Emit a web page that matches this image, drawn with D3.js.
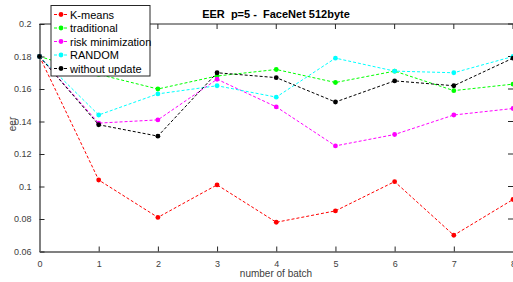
<!DOCTYPE html>
<html>
<head>
<meta charset="utf-8">
<script src="https://cdn.jsdelivr.net/npm/d3@7"></script>
<style>
  body { margin: 0; background: #fff; }
  svg { display: block; font-family: "Liberation Sans", Arial, sans-serif; }
  .title { white-space: pre; }
</style>
</head>
<body>
<svg id="chart" width="513" height="282"></svg>
<script>
// batches on the x axis
const batches = [0, 1, 2, 3, 4, 5, 6, 7, 8]

// EER per method
const kmeans      = [0.180, 0.104, 0.081, 0.101, 0.078, 0.085, 0.103, 0.070, 0.092]
const traditional = [0.180, 0.169, 0.160, 0.168, 0.172, 0.164, 0.171, 0.159, 0.163]
const riskMin     = [0.180, 0.139, 0.141, 0.166, 0.149, 0.125, 0.132, 0.144, 0.148]
const random      = [0.180, 0.144, 0.157, 0.162, 0.155, 0.179, 0.171, 0.170, 0.180]
const noUpdate    = [0.180, 0.138, 0.131, 0.170, 0.167, 0.152, 0.165, 0.162, 0.179]

const seriesNames = ['K-means', 'traditional', 'risk minimization', 'RANDOM', 'without update']
const seriesColors = ['#ff0000', '#00ff00', '#ff00ff', '#00ffff', '#000000']
const yTicks = [0.06, 0.08, 0.1, 0.12, 0.14, 0.16, 0.18, 0.2]

const series = [kmeans, traditional, riskMin, random, noUpdate].map((vals, i) => ({
  name: seriesNames[i],
  color: seriesColors[i],
  values: vals.map((v, j) => ({ x: batches[j], y: v }))
}))

const svg = d3.select('#chart')
const plotL = 39.5, plotR = 513, plotT = 24, plotB = 251.5

const x = d3.scaleLinear().domain([0, 8]).range([plotL, plotR])
const y = d3.scaleLinear().domain([0.06, 0.2]).range([plotB, plotT])

const axisColor = '#262626'
const tickColor = '#404040'

// top box edge
svg.append('line').attr('x1', plotL).attr('x2', plotR).attr('y1', plotT).attr('y2', plotT)
  .attr('stroke', axisColor).attr('stroke-width', 1)

// inner ticks on top and right
svg.append('g').selectAll('line').data(batches).join('line')
  .attr('x1', d => x(d)).attr('x2', d => x(d))
  .attr('y1', plotT).attr('y2', plotT + 5)
  .attr('stroke', axisColor)
svg.append('g').selectAll('line').data(yTicks).join('line')
  .attr('x1', plotR - 5).attr('x2', plotR)
  .attr('y1', d => y(d)).attr('y2', d => y(d))
  .attr('stroke', axisColor)

// bottom axis
const xAxis = svg.append('g').attr('transform', `translate(0,${plotB})`)
  .call(d3.axisBottom(x).tickValues(batches).tickSizeInner(-5).tickSizeOuter(0).tickPadding(9))
xAxis.select('.domain').attr('stroke', '#808080').attr('stroke-width', 2)
xAxis.selectAll('.tick line').attr('stroke', axisColor)
xAxis.selectAll('text').attr('fill', tickColor).attr('font-size', 9).attr('font-family', 'Liberation Sans, Arial')

// left axis
const yAxis = svg.append('g').attr('transform', `translate(${plotL},0)`)
  .call(d3.axisLeft(y).tickValues(yTicks).tickFormat(d3.format('~g')).tickSizeInner(-5).tickSizeOuter(0).tickPadding(8))
yAxis.select('.domain').attr('stroke', '#808080').attr('stroke-width', 2)
yAxis.selectAll('.tick line').attr('stroke', axisColor)
yAxis.selectAll('text').attr('fill', tickColor).attr('font-size', 9).attr('font-family', 'Liberation Sans, Arial')

// lines and markers
const line = d3.line().x(d => x(d.x)).y(d => y(d.y))
const g = svg.append('g')
series.forEach(s => {
  g.append('path').datum(s.values)
    .attr('d', line)
    .attr('fill', 'none')
    .attr('stroke', s.color)
    .attr('stroke-width', 1)
    .attr('stroke-dasharray', '3,2')
  g.selectAll(null).data(s.values).join('circle')
    .attr('cx', d => x(d.x)).attr('cy', d => y(d.y)).attr('r', 2.4)
    .attr('fill', s.color)
})

// title
svg.append('text').attr('class', 'title').attr('x', 276).attr('y', 18).attr('text-anchor', 'middle')
  .attr('font-size', 11).attr('font-weight', 'bold').attr('fill', '#000')
  .text('EER  p=5 -  FaceNet 512byte')

// axis labels
svg.append('text').attr('x', 276).attr('y', 277).attr('text-anchor', 'middle')
  .attr('font-size', 10).attr('fill', tickColor).text('number of batch')
svg.append('text').attr('transform', 'translate(16,124) rotate(-90)').attr('text-anchor', 'middle')
  .attr('font-size', 10).attr('fill', tickColor).text('eer')

// legend
const lg = svg.append('g').attr('transform', 'translate(51,5.5)')
lg.append('rect').attr('width', 99).attr('height', 70.5)
  .attr('fill', '#fff').attr('stroke', axisColor).attr('stroke-width', 1)
const rows = lg.selectAll('g.row').data(series).join('g')
  .attr('class', 'row')
  .attr('transform', (d, i) => `translate(0,${9 + i * 13.5})`)
rows.append('line').attr('x1', 3).attr('x2', 17).attr('y1', 0).attr('y2', 0)
  .attr('stroke', d => d.color).attr('stroke-dasharray', '3,2')
rows.append('circle').attr('cx', 10).attr('cy', 0).attr('r', 2.4).attr('fill', d => d.color)
rows.append('text').attr('x', 19).attr('y', 4).attr('font-size', 11).attr('fill', '#000')
  .text(d => d.name)
</script>
</body>
</html>
